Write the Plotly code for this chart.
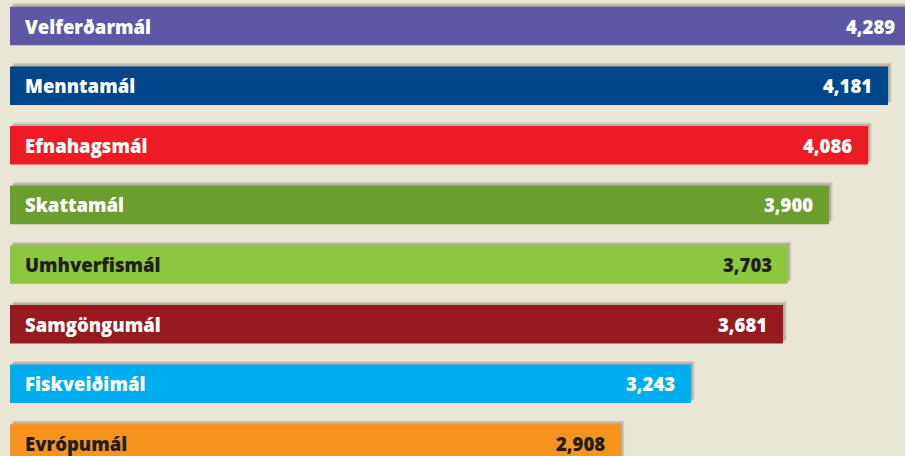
import plotly.graph_objects as go

categories = ["Velferðarmál", "Menntamál", "Efnahagsmál", "Skattamál",
              "Umhverfismál", "Samgöngumál", "Fiskveiðimál", "Evrópumál"]
values = [4289, 4181, 4086, 3900, 3703, 3681, 3243, 2908]
bar_colors = ["#5E57A6", "#00468A", "#ED1C24", "#6A9E2F",
              "#8DC63F", "#971B1E", "#00AEEF", "#F7941D"]
text_colors = ["white", "white", "white", "white",
               "#231F20", "white", "white", "#231F20"]

W, H = 905, 456
px_per_unit_x = 0.21
x0 = -10 / px_per_unit_x
x1 = (W - 10) / px_per_unit_x
py = 59.64
y_top = -26 / py
y_bot = 7 + (H - 443.5) / py

ypos = list(range(len(categories)))

fig = go.Figure()

# shadow layers: main axes shifted, bars drawn on an overlaying axis on top
shadows = [(3.5, 3.5, "rgba(70,60,30,0.15)"), (2, 2, "rgba(70,60,30,0.2)")]
names = ["", "2"]
for (dx, dy, col), ax in zip(shadows, names):
    fig.add_trace(go.Bar(
        x=values, y=ypos, orientation="h", width=0.646,
        marker=dict(color=col, line=dict(width=0)),
        xaxis="x" + ax, yaxis="y" + ax, hoverinfo="skip", showlegend=False))
    xr = [x0 - dx / px_per_unit_x, x1 - dx / px_per_unit_x]
    yr = [y_bot + dy / py, y_top + dy / py]
    if ax == "":
        fig.update_layout(xaxis=dict(range=xr, visible=False, fixedrange=True),
                          yaxis=dict(range=yr, visible=False, fixedrange=True))
    else:
        fig.update_layout(**{
            "xaxis" + ax: dict(range=xr, overlaying="x", visible=False, fixedrange=True),
            "yaxis" + ax: dict(range=yr, overlaying="y", visible=False, fixedrange=True),
        })

fig.add_trace(go.Bar(
    x=values, y=ypos, orientation="h", width=0.646,
    marker=dict(color=bar_colors, line=dict(width=0)),
    xaxis="x3", yaxis="y3",
    hovertext=categories, hoverinfo="text+x", showlegend=False))
fig.update_layout(
    xaxis3=dict(range=[x0, x1], overlaying="x", visible=False, fixedrange=True),
    yaxis3=dict(range=[y_bot, y_top], overlaying="y", visible=False, fixedrange=True),
)

font_family = "Open Sans, Noto Sans, sans-serif"
annotations = []
for c, v, tc, y in zip(categories, values, text_colors, ypos):
    annotations.append(dict(x=0, y=y, xref="x3", yref="y3", text=c,
                            showarrow=False, xanchor="left", yanchor="middle",
                            xshift=13,
                            font=dict(family=font_family, size=18.5, weight=800, color=tc)))
    # value label positioned in paper units (so labels of bars running past the edge stay visible)
    annotations.append(dict(x=(v - x0) / (x1 - x0), y=y, xref="paper", yref="y3",
                            text="{:,}".format(v),
                            showarrow=False, xanchor="right", yanchor="middle",
                            xshift=-14,
                            font=dict(family=font_family, size=18.5, weight=800, color=tc)))

fig.update_layout(
    width=W, height=H,
    margin=dict(l=0, r=0, t=0, b=0),
    paper_bgcolor="#EAE6D5", plot_bgcolor="#EAE6D5",
    annotations=annotations,
    barmode="overlay",
)

fig.write_html("out.html", config={"displayModeBar": False},
               post_script="document.body.style.margin='0';")
